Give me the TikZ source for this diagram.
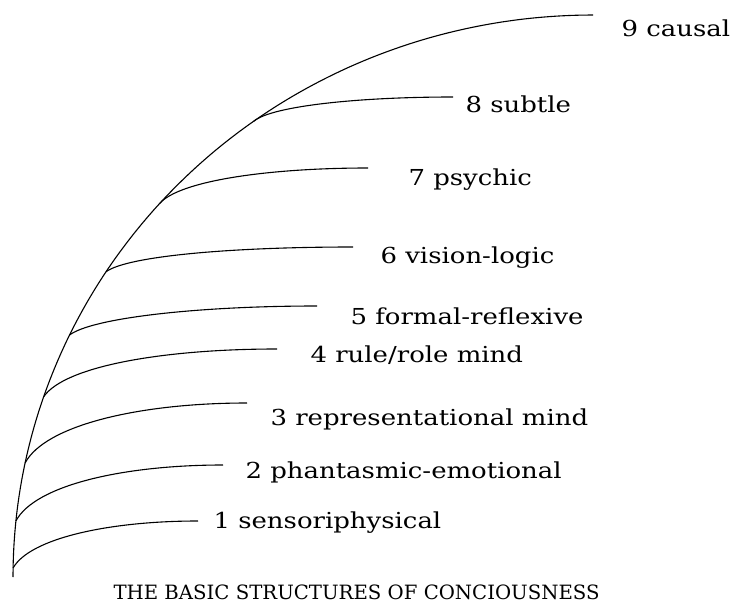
\documentclass[tikz,border=0pt]{standalone}
\usepackage{fontspec}
\setmainfont{DejaVu Serif}
\newfontfamily\lblfont[FakeStretch=1.18]{DejaVu Serif}
\begin{document}
\begin{tikzpicture}[x=1pt,y=-1pt, line width=1.1pt,
  lbl/.style={anchor=base west, inner sep=0pt, font=\lblfont\fontsize{22}{26}\selectfont},
  ttl/.style={anchor=base west, inner sep=0pt, font=\fontsize{19.7}{24}\selectfont}]
\useasboundingbox (0,0) rectangle (732,605);
% main arc (quarter ellipse)
\coordinate (a0) at (13,577);
\coordinate (a9) at (593,15);
\draw plot[domain=0:90, samples=80, smooth] ({593-580*cos(\x)},{577-562*sin(\x)});
% branch start points on the arc
\coordinate (s1) at ({593-580*cos(0.92)},{577-562*sin(0.92)});
\coordinate (s2) at ({593-580*cos(5.72)},{577-562*sin(5.72)});
\coordinate (s3) at ({593-580*cos(11.7)},{577-562*sin(11.7)});
\coordinate (s4) at ({593-580*cos(18.7)},{577-562*sin(18.7)});
\coordinate (s5) at ({593-580*cos(25.5)},{577-562*sin(25.5)});
\coordinate (s6) at ({593-580*cos(32.9)},{577-562*sin(32.9)});
\coordinate (s7) at ({593-580*cos(41.6)},{577-562*sin(41.6)});
\coordinate (s8) at ({593-580*cos(54.2)},{577-562*sin(54.2)});
% branch end points
\coordinate (e1) at (198,521);
\coordinate (e2) at (223,465);
\coordinate (e3) at (247,403);
\coordinate (e4) at (277,349);
\coordinate (e5) at (317,306);
\coordinate (e6) at (353,247);
\coordinate (e7) at (368,168);
\coordinate (e8) at (453,97);
% branches
\draw (s1) .. controls +(17,-30) and +(-88,0) .. (e1);
\draw (s2) .. controls +(19,-36) and +(-99,0) .. (e2);
\draw (s3) .. controls +(20,-38) and +(-107,0) .. (e3);
\draw (s4) .. controls +(21,-31) and +(-112,0) .. (e4);
\draw (s5) .. controls +(22,-17) and +(-120,0) .. (e5);
\draw (s6) .. controls +(22,-16) and +(-119,0) .. (e6);
\draw (s7) .. controls +(19,-23) and +(-100,0) .. (e7);
\draw (s8) .. controls +(18,-15) and +(-96,0) .. (e8);
% labels
\node[lbl] (l1) at (213,528) {1 sensoriphysical};
\node[lbl] (l2) at (245,478) {2 phantasmic-emotional};
\node[lbl] (l3) at (270,425) {3 representational mind};
\node[lbl] (l4) at (310,362) {4 rule/role mind};
\node[lbl] (l5) at (350,324) {5 formal-reflexive};
\node[lbl] (l6) at (380,263) {6 vision-logic};
\node[lbl] (l7) at (408,185) {7 psychic};
\node[lbl] (l8) at (465,112) {8 subtle};
\node[lbl] (l9) at (621,36) {9 causal};
\node[ttl] (t) at (113,599) {THE BASIC STRUCTURES OF CONCIOUSNESS};
\end{tikzpicture}
\end{document}
